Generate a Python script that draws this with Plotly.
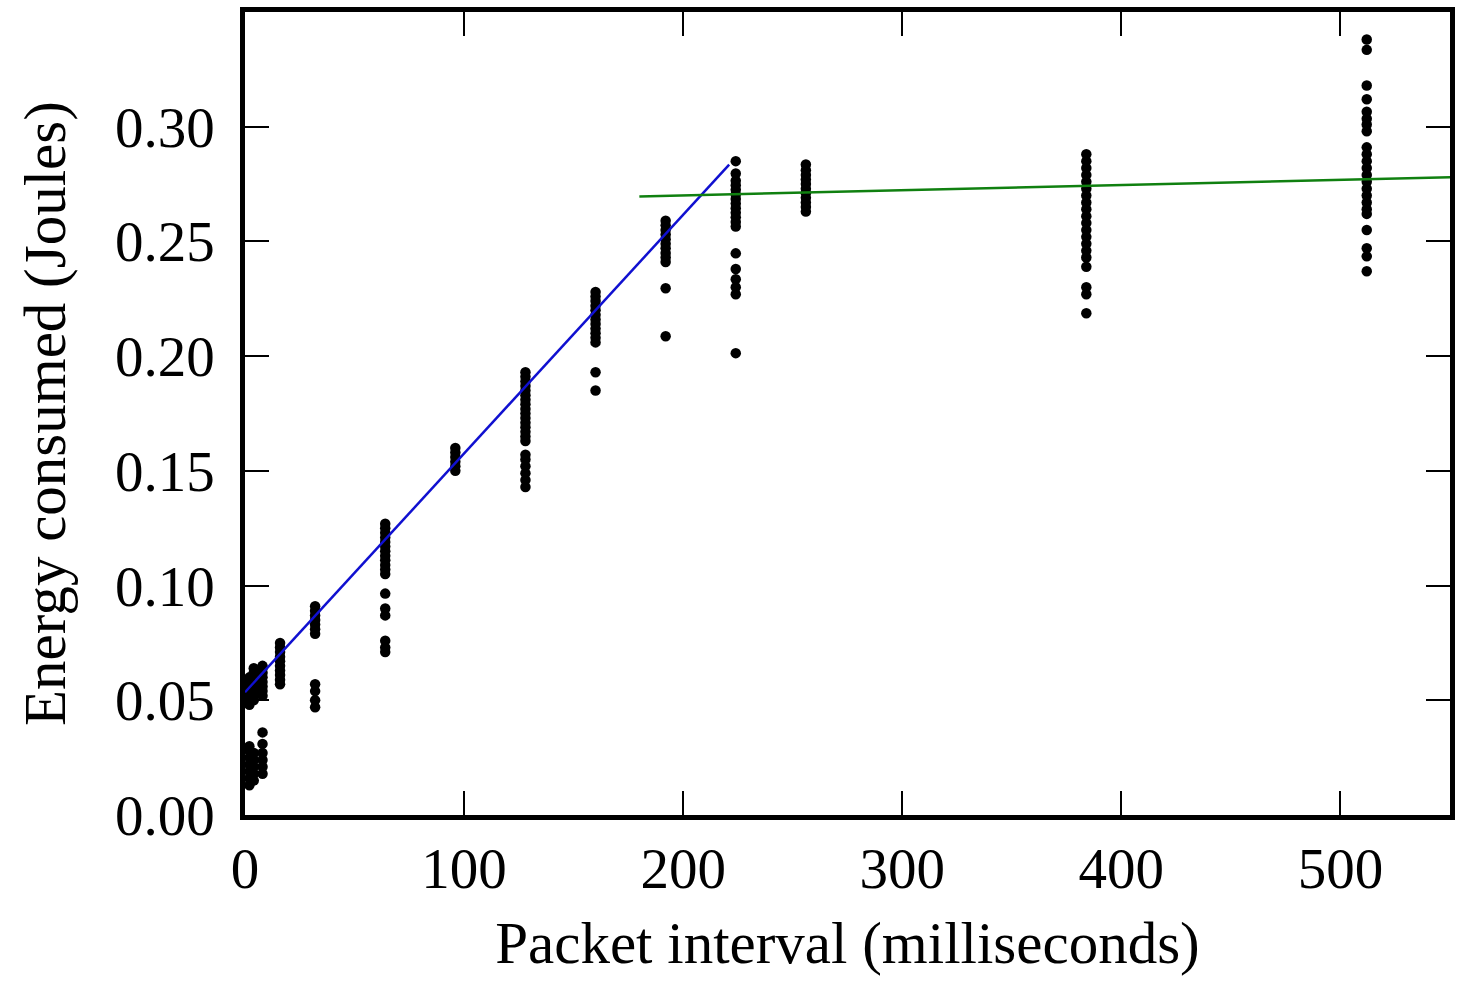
import plotly.graph_objects as go

# Packet interval groups (ms) and measured energies (J)
e_2 = [0.048, 0.050, 0.052, 0.054, 0.056, 0.058, 0.060, 0.013, 0.016, 0.019, 0.022, 0.025, 0.028, 0.030]
e_4 = [0.050, 0.052, 0.054, 0.056, 0.058, 0.060, 0.062, 0.064, 0.015, 0.018, 0.021, 0.024, 0.027]
e_8 = [0.052, 0.054, 0.056, 0.058, 0.060, 0.062, 0.064, 0.065, 0.018, 0.021, 0.024, 0.027, 0.031, 0.036]
e_16 = [0.057, 0.059, 0.061, 0.063, 0.065, 0.067, 0.069, 0.071, 0.073, 0.075]
e_32 = [0.079, 0.081, 0.083, 0.085, 0.087, 0.089, 0.091, 0.047, 0.050, 0.054, 0.057]
e_64 = [0.105, 0.107, 0.109, 0.111, 0.113, 0.115, 0.117, 0.119, 0.121, 0.123, 0.125, 0.127,
        0.0965, 0.090, 0.087, 0.076, 0.073, 0.071]
e_96 = [0.150, 0.152, 0.154, 0.156, 0.158, 0.160]
e_128 = [0.163, 0.165, 0.167, 0.169, 0.171, 0.173, 0.175, 0.177, 0.179, 0.181, 0.183, 0.185,
         0.187, 0.189, 0.191, 0.193, 0.143, 0.146, 0.149, 0.152, 0.155, 0.157]
e_160 = [0.206, 0.208, 0.210, 0.212, 0.214, 0.216, 0.218, 0.220, 0.222, 0.224, 0.226, 0.228, 0.193, 0.185]
e_192 = [0.241, 0.243, 0.245, 0.247, 0.249, 0.251, 0.253, 0.255, 0.257, 0.259, 0.2296, 0.2087]
e_224 = [0.285, 0.2565, 0.2585, 0.2605, 0.2625, 0.2645, 0.2665, 0.2685, 0.2705, 0.2725, 0.2745,
         0.2765, 0.2796, 0.2448, 0.238, 0.2335, 0.230, 0.227, 0.2013]
e_256 = [0.263, 0.265, 0.267, 0.269, 0.271, 0.273, 0.275, 0.277, 0.279, 0.281, 0.2835]
e_384 = [0.288, 0.285, 0.282, 0.279, 0.276, 0.273, 0.270, 0.267, 0.264, 0.261, 0.258, 0.255,
         0.252, 0.249, 0.246, 0.243, 0.239, 0.230, 0.227, 0.2187]
e_512 = [0.338, 0.3335, 0.318, 0.312, 0.3065, 0.3035, 0.301, 0.298, 0.291, 0.288, 0.285, 0.282,
         0.279, 0.276, 0.273, 0.270, 0.267, 0.264, 0.262, 0.255, 0.247, 0.2435, 0.237]

intervals = [2, 4, 8, 16, 32, 64, 96, 128, 160, 192, 224, 256, 384, 512]
energies = [e_2, e_4, e_8, e_16, e_32, e_64, e_96, e_128, e_160, e_192, e_224, e_256, e_384, e_512]

# Fitted lines
blue_x = [0, 221]
blue_y = [0.0535, 0.2835]
green_x = [180, 550]
green_y = [0.2696, 0.2780]

x_ticks = [0, 100, 200, 300, 400, 500]
y_ticks = [0.00, 0.05, 0.10, 0.15, 0.20, 0.25, 0.30]

xs, ys = [], []
for xv, ev in zip(intervals, energies):
    xs += [xv] * len(ev)
    ys += ev

fig = go.Figure()
fig.add_trace(go.Scatter(x=xs, y=ys, mode="markers",
                         marker=dict(color="black", size=10.5), showlegend=False))
fig.add_trace(go.Scatter(x=blue_x, y=blue_y, mode="lines",
                         line=dict(color="#1010d0", width=2.5), showlegend=False))
fig.add_trace(go.Scatter(x=green_x, y=green_y, mode="lines",
                         line=dict(color="#108010", width=2.5), showlegend=False))

font = dict(family="Liberation Serif, Times New Roman, serif", size=57, color="black")
fig.update_layout(
    width=1462, height=986,
    margin=dict(l=245, r=7, t=10, b=171),
    paper_bgcolor="white", plot_bgcolor="white",
    font=font,
    xaxis=dict(range=[0, 550], tickvals=x_ticks, ticktext=[str(v) for v in x_ticks],
               ticks="inside", ticklen=24, tickwidth=2, tickcolor="black",
               showline=True, linewidth=4.5, linecolor="black", mirror="allticks",
               showgrid=False, zeroline=False, ticklabelstandoff=0,
               title=dict(text="Packet interval (milliseconds)", font=dict(size=59), standoff=24),
               tickfont=font),
    yaxis=dict(range=[0, 0.35], tickvals=y_ticks, ticktext=["%.2f" % v for v in y_ticks],
               ticks="inside", ticklen=24, tickwidth=2, tickcolor="black",
               showline=True, linewidth=4.5, linecolor="black", mirror="allticks",
               showgrid=False, zeroline=False, ticklabelstandoff=14,
               title=dict(text="Energy consumed (Joules)", font=dict(size=59), standoff=32),
               tickfont=font),
)

fig.write_html("out.html")
